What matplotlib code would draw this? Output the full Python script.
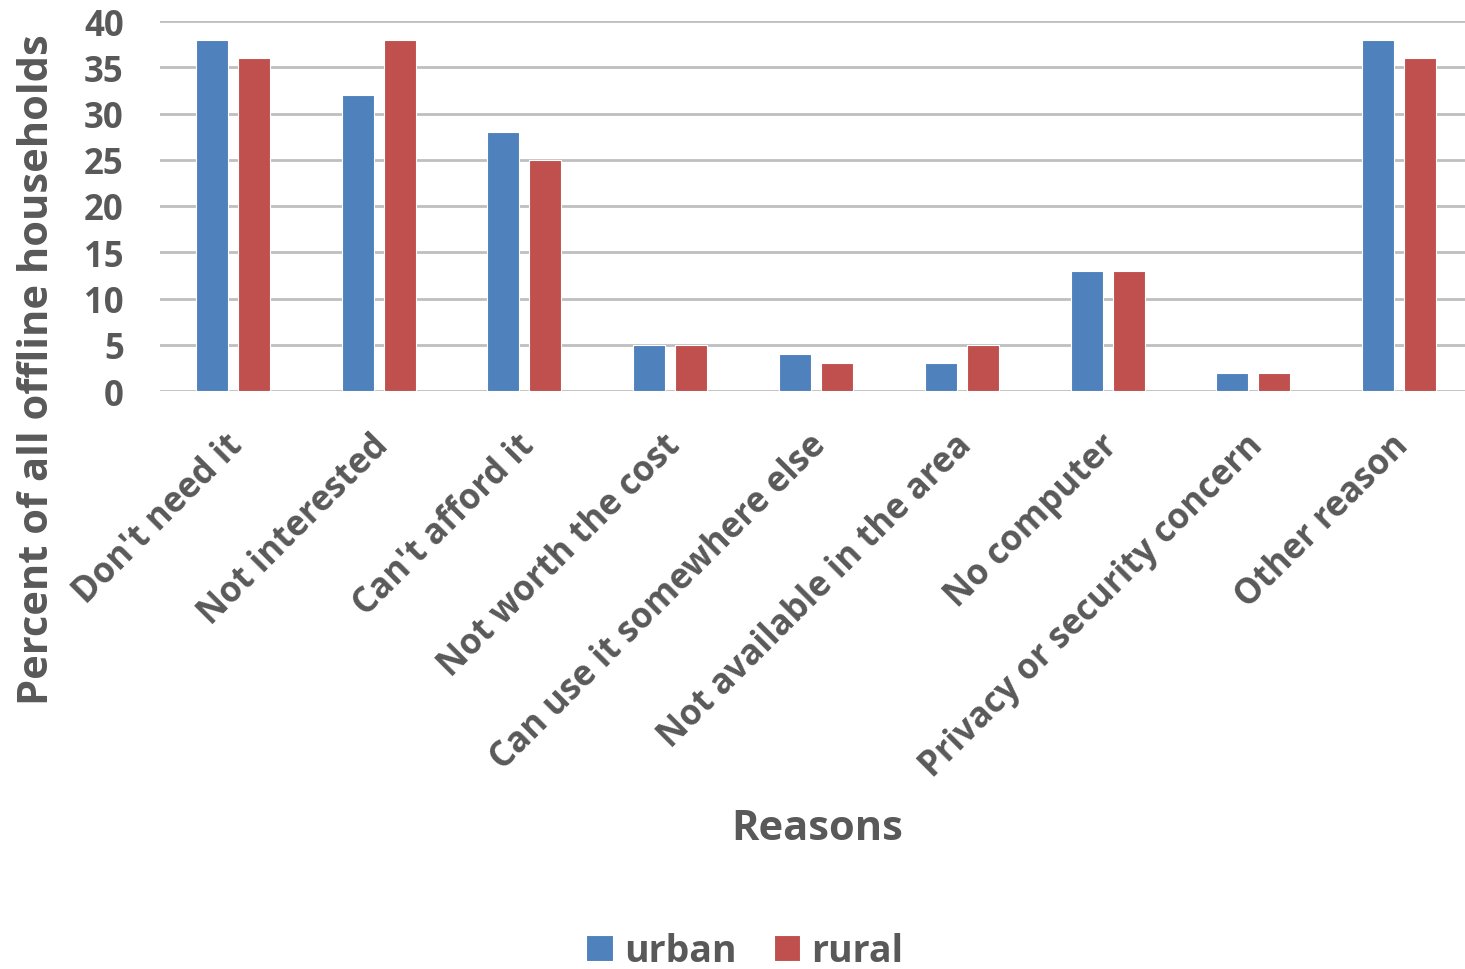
import numpy as np
import matplotlib.pyplot as plt
import matplotlib.transforms as mtransforms

reasons = ["Don't need it", "Not interested", "Can't afford it", "Not worth the cost",
           "Can use it somewhere else", "Not available in the area", "No computer",
           "Privacy or security concern", "Other reason"]
urban = [38, 32, 28, 5, 4, 3, 13, 2, 38]
rural = [36, 38, 25, 5, 3, 5, 13, 2, 36]

blue = '#4f81bd'
red = '#c0504d'
text_color = '#595959'

plt.rcParams['font.family'] = ['Open Sans', 'DejaVu Sans']
plt.rcParams['font.weight'] = 'bold'

fig = plt.figure(figsize=(14.65, 9.7), dpi=100)
# axes spans a little past the right edge of the figure
ax = fig.add_axes([160 / 1465, 1 - 392 / 970, 1312 / 1465, 370 / 970])

x = np.arange(len(reasons))
w = 0.22
off = 0.144
ax.bar(x - off, urban, w, color=blue, edgecolor='white', linewidth=0.8, label='urban', zorder=3)
ax.bar(x + off, rural, w, color=red, edgecolor='white', linewidth=0.8, label='rural', zorder=3)

ax.set_xlim(-0.5, len(reasons) - 0.5)
ax.set_ylim(0, 40)
ax.set_yticks(range(0, 41, 5))
ax.yaxis.grid(True, color='#bfbfbf', linewidth=2, zorder=0)
ax.set_axisbelow(True)
for s in ax.spines.values():
    s.set_visible(False)
ax.tick_params(length=0, colors=text_color)
ax.tick_params(axis='y', labelsize=25, pad=26)
ax.tick_params(axis='x', labelsize=25, pad=26)

ax.set_xticks(x)
ax.set_xticklabels(reasons, rotation=45, ha='right', rotation_mode='anchor')
# nudge the slanted labels a bit to the left
shift = mtransforms.ScaledTranslation(-8 / 100, 0, fig.dpi_scale_trans)
for lbl in ax.get_xticklabels():
    lbl.set_transform(lbl.get_transform() + shift)

fig.text(38 / 1465, 1 - 370 / 970, 'Percent of all offline households', fontsize=30,
         color=text_color, fontweight='bold', rotation=90, ha='center', va='center')
fig.text(817 / 1465, 1 - 830 / 970, 'Reasons', fontsize=30, color=text_color,
         fontweight='bold', ha='center', va='center')

fig.legend(loc='center', bbox_to_anchor=(745 / 1465, 1 - 952 / 970), ncol=2, frameon=False,
           fontsize=27, labelcolor=text_color, handlelength=0.7, handleheight=0.7,
           handletextpad=0.3, columnspacing=1.0)

fig.savefig('out.png', dpi=100)
